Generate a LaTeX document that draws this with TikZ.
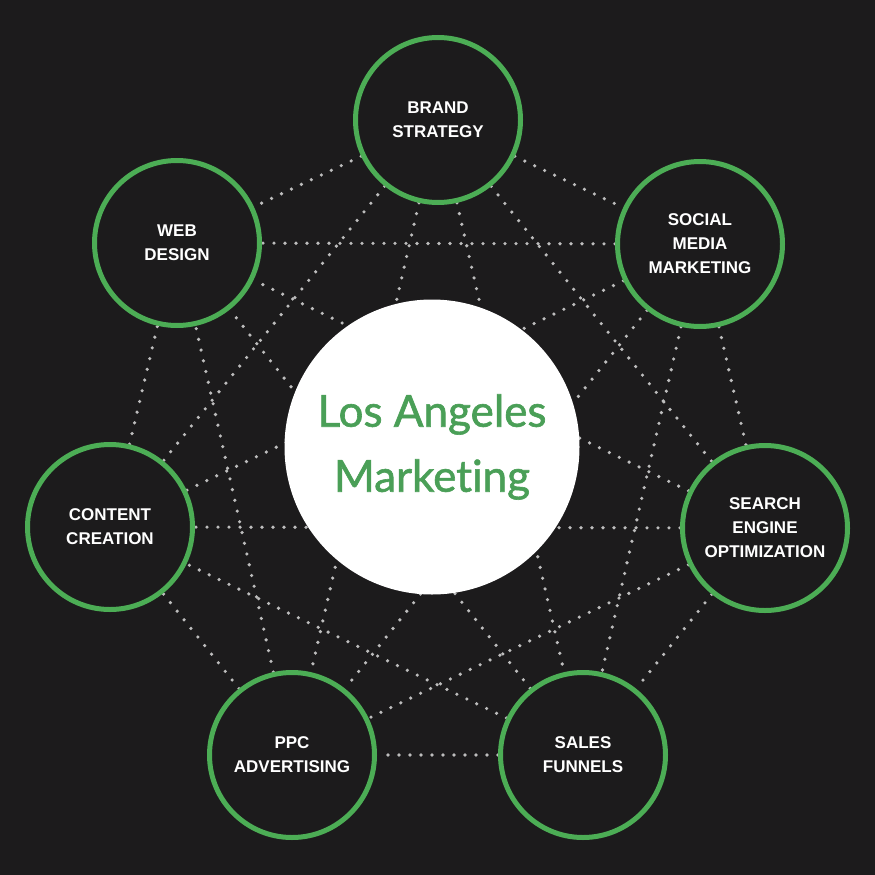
\documentclass[tikz,border=0pt]{standalone}
\usepackage{fontspec}
\setmainfont{Liberation Sans}
\newfontfamily\hubfont[Ligatures={NoCommon}, FakeBold=1.4]{Lato}
\definecolor{bg}{HTML}{1C1B1C}
\definecolor{ringgreen}{HTML}{4CAD55}
\definecolor{hubgreen}{HTML}{4A9F57}
\definecolor{dotgray}{HTML}{BDBDBD}
\pgfdeclarelayer{back}
\pgfdeclarelayer{links}
\pgfsetlayers{back,links,main}
\begin{document}
\begin{tikzpicture}[x=1pt, y=-1pt,
        topic/.style={circle, draw=ringgreen, line width=5pt, fill=bg,
            minimum size=165pt, inner sep=0pt, align=center, text=white,
            font=\bfseries\fontsize{17}{24}\selectfont},
        hub/.style={circle, fill=white, minimum size=295pt, inner sep=0pt,
            align=center, text=hubgreen, font=\hubfont\fontsize{44}{65}\selectfont},
        link/.style={draw=dotgray, line width=3.6pt, line cap=round,
            dash pattern=on 0pt off 11pt}]
    \begin{pgfonlayer}{back}
        \fill[bg] (0, 0) rectangle (875, 875);
    \end{pgfonlayer}
    \node[hub] (hub) at (432, 447) {Los Angeles\\Marketing};
    \node[topic] (brand) at (438, 120) {BRAND\\STRATEGY};
    \node[topic] (social) at (700, 244) {SOCIAL\\MEDIA\\MARKETING};
    \node[topic] (seo) at (765, 528) {SEARCH\\ENGINE\\OPTIMIZATION};
    \node[topic] (sales) at (583, 755) {SALES\\FUNNELS};
    \node[topic] (ppc) at (292, 755) {PPC\\ADVERTISING};
    \node[topic] (content) at (110, 527) {CONTENT\\CREATION};
    \node[topic] (web) at (177, 243) {WEB\\DESIGN};
    % every topic linked to every other one
    \begin{pgfonlayer}{links}
        \foreach \a [count=\i] in {brand, social, seo, sales, ppc, content, web} {
            \foreach \b [count=\j] in {brand, social, seo, sales, ppc, content, web} {
                \ifnum\j>\i
                    \draw[link] (\a) -- (\b);
                \fi
            }
        }
    \end{pgfonlayer}
\end{tikzpicture}
\end{document}
